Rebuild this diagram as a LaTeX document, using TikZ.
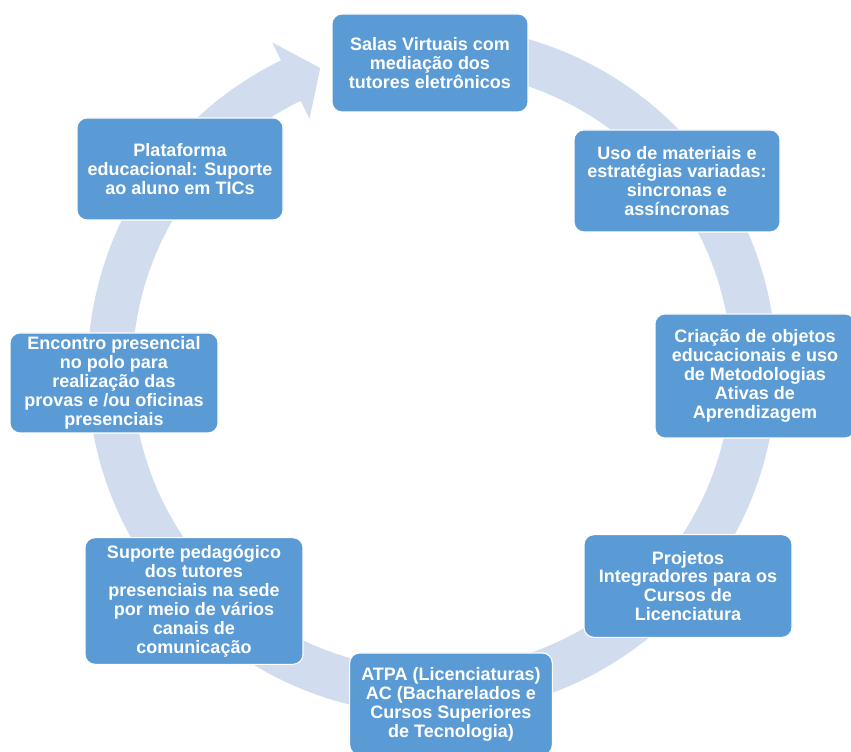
\documentclass[tikz,border=0pt]{standalone}
\usepackage{fontspec}
\setmainfont{Liberation Sans}
\definecolor{caixa}{RGB}{91,155,213}
\definecolor{anel}{RGB}{209,221,239}

\begin{document}
\begin{tikzpicture}[x=0.75pt,y=0.75pt,
	etapa/.style={draw=white,line width=0.8pt,fill=caixa,rounded corners=7.5pt,text=white,align=center,inner sep=2pt,font=\fontsize{13.5}{14.2}\selectfont\bfseries}]
	\useasboundingbox (0,0) rectangle (851,752);
	% anel com seta
	\begin{scope}[shift={(432,382)}]
		\fill[anel] (90:344.5) arc[start angle=90,end angle=-244,radius=344.5] -- (-244:364.5) -- (-249.7:322) -- (-244:279.5) -- (-244:299.5) arc[start angle=-244,end angle=90,radius=299.5] -- cycle ;
	\end{scope}
	% etapas
	\node[etapa,minimum width=147pt,minimum height=73.5pt] (salas) at (430,689) {Salas Virtuais com\\mediação dos\\tutores eletrônicos} ;
	\node[etapa,minimum width=154.5pt,minimum height=76.5pt] (materiais) at (677,571) {Uso de materiais e\\estratégias variadas:\\sincronas e\\assíncronas} ;
	\node[etapa,minimum width=150pt,minimum height=93pt] (objetos) at (755,376) {Criação de objetos\\educacionais e uso\\de Metodologias\\Ativas de\\Aprendizagem} ;
	\node[etapa,minimum width=156pt,minimum height=77pt] (projetos) at (688,166) {Projetos\\Integradores para os\\Cursos de\\Licenciatura} ;
	\node[etapa,minimum width=152pt,minimum height=76.5pt] (atpa) at (451,48) {ATPA (Licenciaturas)\\AC (Bacharelados e\\Cursos Superiores\\de Tecnologia)} ;
	\node[etapa,minimum width=163.5pt,minimum height=95pt] (suporte) at (194,151) {Suporte pedagógico\\dos tutores\\presenciais na sede\\por meio de vários\\canais de\\comunicação} ;
	\node[etapa,minimum width=156pt,minimum height=75pt] (encontro) at (114,369) {Encontro presencial\\no polo para\\realização das\\provas e /ou oficinas\\presenciais} ;
	\node[etapa,minimum width=154.5pt,minimum height=76.5pt] (plataforma) at (180,583) {Plataforma\\educacional: Suporte\\ao aluno em TICs} ;
\end{tikzpicture}
\end{document}
